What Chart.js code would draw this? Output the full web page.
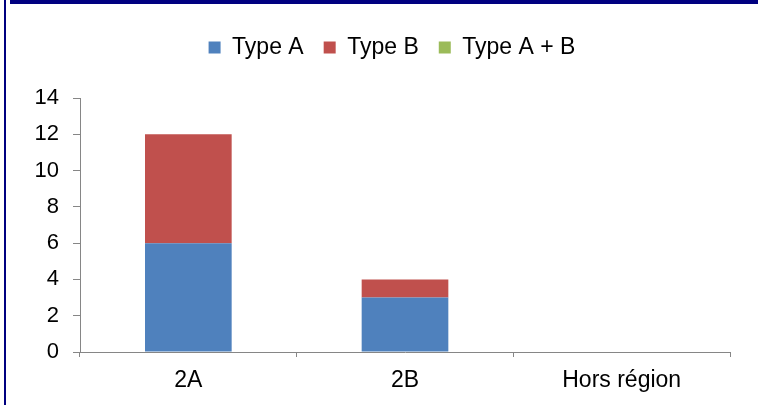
<!DOCTYPE html>
<html>
<head>
<meta charset="utf-8">
<script src="https://cdn.jsdelivr.net/npm/chart.js@4/dist/chart.umd.min.js"></script>
<style>
  html, body { margin: 0; padding: 0; background: #ffffff; }
  #wrap { position: relative; width: 758px; height: 405px; overflow: hidden; }
  #chart { position: absolute; left: 0; top: 0; }
  .frame-left { position: absolute; left: 4px; top: 0; width: 2px; height: 405px; background: #000080; }
  .frame-top { position: absolute; left: 10px; top: 0; right: 0; height: 4px; background: #000080; }
</style>
</head>
<body>
<div id="wrap">
  <canvas id="chart" width="758" height="405"></canvas>
  <div class="frame-left"></div>
  <div class="frame-top"></div>
</div>
<script>
// Categories and series
const categories = ['2A', '2B', 'Hors région'];
const typeA = [6, 3, 0];
const typeB = [6, 1, 0];
const typeAB = [0, 0, 0];
const yMin = 0;
const yMax = 14;
const yStep = 2;

const FONT = "'Liberation Sans', Arial, Helvetica, sans-serif";
const AXIS_GREY = '#868686';

// Leaves room between the legend row and the plot area,
// and moves the legend row a little to the right
const legendPlacement = {
  id: 'legendPlacement',
  beforeLayout(chart) {
    const lg = chart.legend;
    if (lg && !lg._gapPatched) {
      const fit = lg.fit;
      lg.fit = function () {
        fit.call(this);
        this.height += 29;
      };
      lg._gapPatched = true;
    }
  },
  afterLayout(chart) {
    const lg = chart.legend;
    if (lg) {
      lg.left += 27;
      lg.right += 27;
    }
  }
};

new Chart(document.getElementById('chart'), {
  type: 'bar',
  data: {
    labels: categories,
    datasets: [
      { label: 'Type A', data: typeA, backgroundColor: '#4F81BD' },
      { label: 'Type B', data: typeB, backgroundColor: '#C0504D' },
      { label: 'Type A + B', data: typeAB, backgroundColor: '#9BBB59' }
    ]
  },
  options: {
    responsive: false,
    animation: false,
    layout: { padding: { left: 0, right: 28, top: 16, bottom: 0 } },
    datasets: {
      bar: { barPercentage: 0.4, categoryPercentage: 1.0, borderWidth: 0 }
    },
    plugins: {
      legend: {
        position: 'top',
        align: 'center',
        labels: {
          boxWidth: 12,
          boxHeight: 12,
          padding: 20,
          color: '#000000',
          font: { family: FONT, size: 23 }
        }
      },
      tooltip: { enabled: false }
    },
    scales: {
      x: {
        stacked: true,
        offset: true,
        afterFit(scale) { scale.height = 53; },
        grid: {
          display: true,
          offset: true,
          drawOnChartArea: false,
          drawTicks: true,
          tickLength: 5,
          color: AXIS_GREY,
          lineWidth: 1
        },
        border: { display: true, color: AXIS_GREY, width: 1 },
        ticks: {
          color: '#000000',
          padding: 10,
          maxRotation: 0,
          font: { family: FONT, size: 23 }
        }
      },
      y: {
        stacked: true,
        min: yMin,
        max: yMax,
        afterFit(scale) { scale.width = 80; },
        grid: {
          display: true,
          drawOnChartArea: false,
          drawTicks: true,
          tickLength: 7,
          color: AXIS_GREY,
          lineWidth: 1
        },
        border: { display: true, color: AXIS_GREY, width: 1 },
        ticks: {
          stepSize: yStep,
          color: '#000000',
          padding: 14,
          font: { family: FONT, size: 22 }
        }
      }
    }
  },
  plugins: [legendPlacement]
});
</script>
</body>
</html>
